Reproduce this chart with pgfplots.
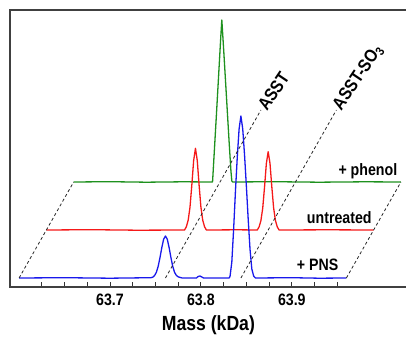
\documentclass[border=0pt]{standalone}
\usepackage{pgfplots}
\pgfplotsset{compat=1.18}
\usepackage{fontspec}
\newfontfamily\cf[FakeStretch=0.86]{Liberation Sans}
\newcommand\lbl{\cf\bfseries\fontsize{16.5}{18}\selectfont}
\newcommand\lblrot{\cf\bfseries\fontsize{18}{20}\selectfont}
\newcommand\lblbig{\cf\bfseries\fontsize{20.5}{22}\selectfont}
\definecolor{cgreen}{RGB}{30,145,30}
\definecolor{cred}{RGB}{245,25,25}
\definecolor{cblue}{RGB}{25,25,235}
\begin{document}
\begin{tikzpicture}
\begin{axis}[
  scale only axis, width=400pt, height=277pt,
  xmin=63.59, xmax=64.030, ymin=0, ymax=277,
  axis line style={draw=black!75, line width=1.5pt},
  ytick=\empty,
  xtick={63.7,63.8,63.9},
  xticklabels={63.7,63.8,63.9},
  minor xtick={63.625,63.65,63.675,63.725,63.75,63.775,63.825,63.85,63.875,63.925,63.95},
  xtick pos=left,
  tick align=inside,
  major tick length=5.5pt, minor tick length=5.5pt,
  tick style={black!80, line width=0.9pt},
  xticklabel style={font=\lbl, anchor=base, yshift=-18.7pt},
  xlabel={Mass (kDa)},
  xlabel style={font=\lblbig, anchor=base, at={(axis description cs:0.496,0)}, yshift=-43.7pt},
  every axis plot/.append style={line width=1.3pt, line join=round},
]
% green: + phenol
\addplot[cgreen] coordinates {
 (63.660,105) (63.700,105.3) (63.740,104.8) (63.780,105.2) (63.8128,105) (63.815,139.8)
 (63.817,171.4) (63.819,203.8) (63.821,236.2) (63.822,252.4) (63.823,267) (63.824,252.4) (63.825,237.8) (63.827,207.1)
 (63.829,176.3) (63.831,145.5) (63.833,116.3) (63.834,106) (63.835,105) (63.880,105.3) (63.930,104.8) (63.980,105.2) (64.020,105)
};
% red: untreated
\addplot[cred] coordinates {
 (63.630,57) (63.680,57.3) (63.730,56.8) (63.782,57) (63.784,60.3) (63.786,66.8) (63.788,79.9)
 (63.790,101.9) (63.792,126.4) (63.794,138.7) (63.796,126.4) (63.798,101.9) (63.800,79.9)
 (63.802,66.8) (63.804,60.3) (63.806,57)
 (63.840,57.2) (63.862,57) (63.864,60.1) (63.866,66.4) (63.868,78.9) (63.870,100.1)
 (63.872,123.6) (63.874,135.3) (63.876,123.6) (63.878,100.1) (63.880,78.9) (63.882,66.4)
 (63.884,60.1) (63.886,57) (63.940,57.2) (63.990,57)
};
% blue: + PNS
\addplot[cblue] coordinates {
 (63.600,9) (63.650,9.3) (63.700,8.8) (63.745,9.3) (63.747,9.8) (63.749,11.4) (63.751,14.7)
 (63.753,20.7) (63.755,29.5) (63.757,39.5) (63.759,47.8) (63.761,51) (63.763,47.8)
 (63.765,39.5) (63.767,29.5) (63.769,20.7) (63.771,14.7) (63.773,11.6) (63.775,10.2)
 (63.777,9.6) (63.779,9.1) (63.795,9) (63.797,10.5) (63.799,11) (63.801,10) (63.803,9)
 (63.831,9) (63.832,10.5) (63.834,25) (63.836,58) (63.838,96) (63.840,130) (63.842,158)
 (63.844,171) (63.846,158) (63.848,132) (63.850,101) (63.852,68) (63.854,38)
 (63.856,18) (63.858,11) (63.860,9) (63.900,9.3) (63.930,8.8) (63.960,9)
};
% dashed guides
\addplot[black!85, line width=0.8pt, dash pattern=on 3pt off 2.5pt] coordinates {(63.600,9) (63.660,105)};
\addplot[black!85, line width=0.8pt, dash pattern=on 3pt off 2.5pt] coordinates {(63.960,9) (64.020,105)};
\addplot[black!85, line width=0.8pt, dash pattern=on 3pt off 2.5pt] coordinates {(63.761,9) (63.866,177)}
  node[pos=1, rotate=56, anchor=west, inner sep=1.5pt, font=\lblrot, text=black] {ASST};
\addplot[black!85, line width=0.8pt, dash pattern=on 3pt off 2.5pt] coordinates {(63.844,9) (63.949,177)}
  node[pos=1, rotate=56, anchor=west, inner sep=1.5pt, font=\lblrot, text=black] {ASST-SO\textsubscript{3}};
% series labels
\node[anchor=base east, font=\lbl, inner sep=0pt] at (axis cs:64.0162,111) {+ phenol};
\node[anchor=base east, font=\lbl, inner sep=0pt] at (axis cs:63.988,63.7) {untreated};
\node[anchor=base east, font=\lbl, inner sep=0pt] at (axis cs:63.9513,17) {+ PNS};
\end{axis}
\pgfresetboundingbox
\path (-10pt,-50pt) rectangle (396pt,287pt);
\end{tikzpicture}
\end{document}
